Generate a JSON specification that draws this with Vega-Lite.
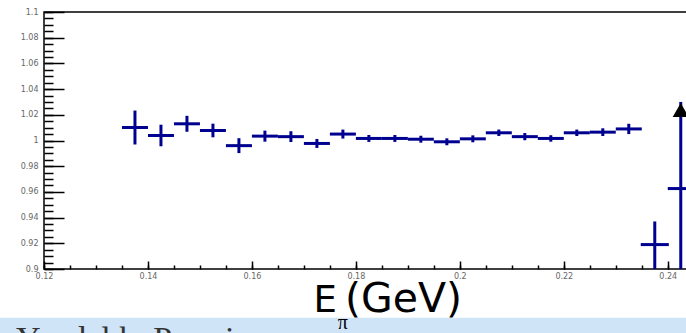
{
  "$schema": "https://vega.github.io/schema/vega-lite/v6.json",
  "width": 643,
  "height": 257,
  "autosize": "none",
  "padding": {"left": 44, "top": 12, "right": 0, "bottom": 64},
  "background": "white",
  "config": {
    "view": {"stroke": "black", "strokeWidth": 1.5},
    "axis": {"title": null, "labelFont": "DejaVu Sans", "labelFontSize": 8, "labelColor": "#666", "labelOverlap": false, "labelFlush": false, "labelBound": false, "domain": false, "ticks": false, "gridColor": "black", "gridWidth": 1.5, "gridOpacity": 1}
  },
  "datasets": {
    "one": [{}],
    "ratio": [
      {"x": 0.1375, "xlo": 0.135, "xhi": 0.140, "y": 1.0101, "ylo": 0.9969, "yhi": 1.0233},
      {"x": 0.1425, "xlo": 0.140, "xhi": 0.145, "y": 1.0039, "ylo": 0.9955, "yhi": 1.0123},
      {"x": 0.1475, "xlo": 0.145, "xhi": 0.150, "y": 1.0130, "ylo": 1.0068, "yhi": 1.0192},
      {"x": 0.1525, "xlo": 0.150, "xhi": 0.155, "y": 1.0078, "ylo": 1.0025, "yhi": 1.0131},
      {"x": 0.1575, "xlo": 0.155, "xhi": 0.160, "y": 0.9960, "ylo": 0.9902, "yhi": 1.0018},
      {"x": 0.1625, "xlo": 0.160, "xhi": 0.165, "y": 1.0034, "ylo": 0.9991, "yhi": 1.0077},
      {"x": 0.1675, "xlo": 0.165, "xhi": 0.170, "y": 1.0030, "ylo": 0.9988, "yhi": 1.0072},
      {"x": 0.1725, "xlo": 0.170, "xhi": 0.175, "y": 0.9977, "ylo": 0.9942, "yhi": 1.0012},
      {"x": 0.1775, "xlo": 0.175, "xhi": 0.180, "y": 1.0050, "ylo": 1.0015, "yhi": 1.0085},
      {"x": 0.1825, "xlo": 0.180, "xhi": 0.185, "y": 1.0016, "ylo": 0.9989, "yhi": 1.0043},
      {"x": 0.1875, "xlo": 0.185, "xhi": 0.190, "y": 1.0016, "ylo": 0.9989, "yhi": 1.0043},
      {"x": 0.1925, "xlo": 0.190, "xhi": 0.195, "y": 1.0010, "ylo": 0.9983, "yhi": 1.0037},
      {"x": 0.1975, "xlo": 0.195, "xhi": 0.200, "y": 0.9990, "ylo": 0.9963, "yhi": 1.0017},
      {"x": 0.2025, "xlo": 0.200, "xhi": 0.205, "y": 1.0013, "ylo": 0.9986, "yhi": 1.0040},
      {"x": 0.2075, "xlo": 0.205, "xhi": 0.210, "y": 1.0060, "ylo": 1.0035, "yhi": 1.0085},
      {"x": 0.2125, "xlo": 0.210, "xhi": 0.215, "y": 1.0030, "ylo": 1.0002, "yhi": 1.0058},
      {"x": 0.2175, "xlo": 0.215, "xhi": 0.220, "y": 1.0016, "ylo": 0.9991, "yhi": 1.0041},
      {"x": 0.2225, "xlo": 0.220, "xhi": 0.225, "y": 1.0060, "ylo": 1.0035, "yhi": 1.0085},
      {"x": 0.2275, "xlo": 0.225, "xhi": 0.230, "y": 1.0065, "ylo": 1.0035, "yhi": 1.0095},
      {"x": 0.2325, "xlo": 0.230, "xhi": 0.235, "y": 1.0090, "ylo": 1.0050, "yhi": 1.0130},
      {"x": 0.2375, "xlo": 0.2348, "xhi": 0.2402, "y": 0.9190, "ylo": 0.8800, "yhi": 0.9370},
      {"x": 0.2425, "xlo": 0.2400, "xhi": 0.2450, "y": 0.9626, "ylo": 0.8600, "yhi": 1.0300}
    ]
  },
  "resolve": {"axis": {"x": "independent", "y": "independent"}},
  "layer": [
    {
      "data": {"name": "one"},
      "mark": {"type": "rect", "fill": "#d0e4f8", "clip": false},
      "encoding": {
        "x": {"datum": 0.11, "type": "quantitative", "axis": null},
        "x2": {"datum": 0.25},
        "y": {"datum": 0.862, "type": "quantitative", "axis": null},
        "y2": {"datum": 0.80}
      }
    },
    {
      "data": {"name": "one"},
      "mark": {"type": "text", "text": "Yandel h. Premium", "font": "Liberation Serif", "fontSize": 34, "align": "left", "baseline": "alphabetic", "color": "#333", "clip": false},
      "encoding": {
        "x": {"datum": 0.1146, "type": "quantitative", "axis": null},
        "y": {"datum": 0.837, "type": "quantitative", "axis": null}
      }
    },
    {
      "data": {"name": "one"},
      "mark": {"type": "text", "text": "E", "font": "DejaVu Sans", "fontSize": 37, "align": "right", "baseline": "alphabetic", "color": "black", "clip": false},
      "encoding": {
        "x": {"datum": 0.17637, "type": "quantitative", "axis": null},
        "y": {"datum": 0.8665, "type": "quantitative", "axis": null}
      }
    },
    {
      "data": {"name": "one"},
      "mark": {"type": "text", "text": "(GeV)", "font": "DejaVu Sans", "fontSize": 41, "align": "left", "baseline": "alphabetic", "color": "black", "clip": false},
      "encoding": {
        "x": {"datum": 0.17791, "type": "quantitative", "axis": null},
        "y": {"datum": 0.8665, "type": "quantitative", "axis": null}
      }
    },
    {
      "data": {"name": "one"},
      "mark": {"type": "text", "text": "π", "font": "Liberation Serif", "fontSize": 20, "align": "center", "baseline": "alphabetic", "color": "black", "clip": false},
      "encoding": {
        "x": {"datum": 0.1775, "type": "quantitative", "axis": null},
        "y": {"datum": 0.8535, "type": "quantitative", "axis": null}
      }
    },
    {
      "data": {"name": "ratio"},
      "mark": {"type": "rule", "color": "#000090", "strokeWidth": 3, "clip": true},
      "encoding": {
        "x": {"field": "x", "type": "quantitative", "scale": {"domain": [0.12, 0.2437], "nice": false, "zero": false},
              "axis": {"orient": "bottom", "values": [0.12, 0.14, 0.16, 0.18, 0.2, 0.22, 0.24], "format": "~g", "labelPadding": 3, "grid": true, "gridDash": [0, 249, 8, 2000]}},
        "y": {"field": "ylo", "type": "quantitative", "scale": {"domain": [0.9, 1.1], "nice": false, "zero": false},
              "axis": {"orient": "left", "values": [0.9, 0.92, 0.94, 0.96, 0.98, 1, 1.02, 1.04, 1.06, 1.08, 1.1], "format": "~g", "labelPadding": 6, "grid": true, "gridDash": [20, 2000]}},
        "y2": {"field": "yhi"}
      }
    },
    {
      "data": {"name": "ratio"},
      "mark": {"type": "rule", "color": "#000090", "strokeWidth": 3, "clip": true},
      "encoding": {
        "x": {"field": "xlo", "type": "quantitative", "axis": null},
        "x2": {"field": "xhi"},
        "y": {"field": "y", "type": "quantitative", "axis": null}
      }
    },
    {
      "data": {"name": "one"},
      "mark": {"type": "point", "shape": "triangle-up", "filled": true, "color": "black", "opacity": 1, "size": 260, "clip": false},
      "encoding": {
        "x": {"datum": 0.2425, "type": "quantitative",
              "axis": {"orient": "bottom", "labels": false, "grid": true, "gridDash": [0, 253, 4, 2000], "values": [0.12, 0.125, 0.13, 0.135, 0.14, 0.145, 0.15, 0.155, 0.16, 0.165, 0.17, 0.175, 0.18, 0.185, 0.19, 0.195, 0.2, 0.205, 0.21, 0.215, 0.22, 0.225, 0.23, 0.235, 0.24]}},
        "y": {"datum": 1.0237, "type": "quantitative",
              "axis": {"orient": "left", "labels": false, "grid": true, "gridDash": [9, 2000], "values": [0.9, 0.905, 0.91, 0.915, 0.92, 0.925, 0.93, 0.935, 0.94, 0.945, 0.95, 0.955, 0.96, 0.965, 0.97, 0.975, 0.98, 0.985, 0.99, 0.995, 1, 1.005, 1.01, 1.015, 1.02, 1.025, 1.03, 1.035, 1.04, 1.045, 1.05, 1.055, 1.06, 1.065, 1.07, 1.075, 1.08, 1.085, 1.09, 1.095, 1.1]}}
      }
    }
  ]
}
